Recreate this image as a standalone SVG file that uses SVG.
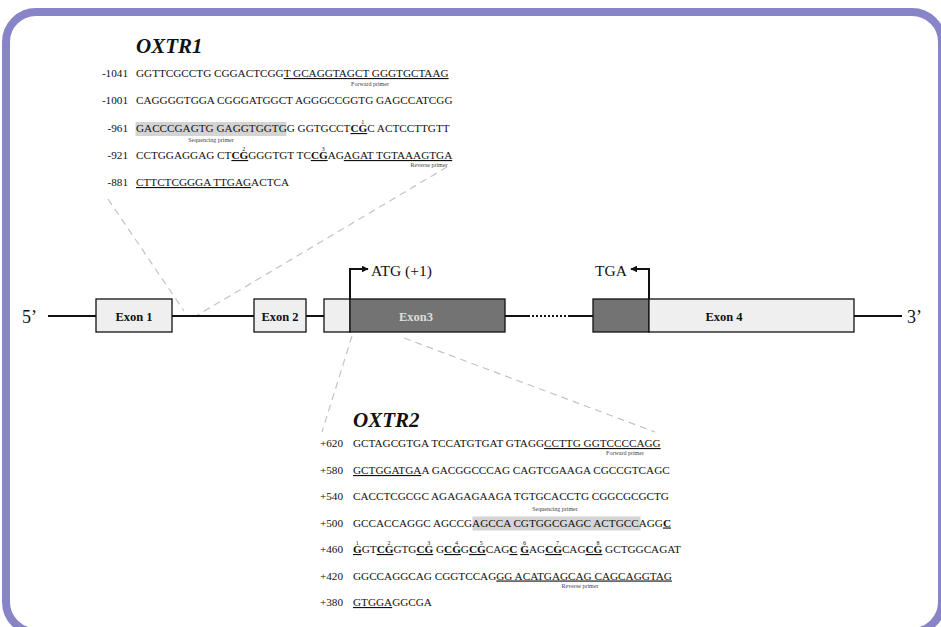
<svg xmlns="http://www.w3.org/2000/svg" width="941" height="627" viewBox="0 0 941 627">
<defs>
<style>
text{font-family:"Liberation Serif","Times New Roman",serif;fill:#111}
.seq{font-size:11.2px}
.lab{font-size:11.2px;text-anchor:end}
.b{font-weight:bold}
.u{text-decoration:underline}
.sup{font-size:6px}
.tiny{font-size:6px;fill:#444;text-anchor:middle}
.title{font-size:21px;font-weight:bold;font-style:italic}
.ex{font-size:12.5px;font-weight:bold;text-anchor:middle}
.big{font-size:18px}
.mid{font-size:15.5px}
.shade{fill:#d4d4d4}
.light{fill:#efefef;stroke:#111;stroke-width:1.3}
.dark{fill:#737373;stroke:#111;stroke-width:1.3}
.dash{stroke:#c4c4c4;stroke-width:1.2;stroke-dasharray:7 5;fill:none}
.gl{stroke:#111;stroke-width:2;fill:none}
</style>
<marker id="ah" viewBox="0 0 10 10" refX="9" refY="5" markerWidth="7" markerHeight="7" orient="auto" markerUnits="userSpaceOnUse"><path d="M0,0L10,5L0,10z" fill="#111"/></marker>
</defs>
<rect x="6" y="12" width="936" height="620" rx="30" fill="#fff" stroke="#8884c8" stroke-width="8"/>

<g id="connectors">
<line class="dash" x1="108" y1="199" x2="184" y2="311"/>
<line class="dash" x1="447" y1="167" x2="196" y2="316"/>
<line class="dash" x1="352" y1="336" x2="322" y2="432"/>
<line class="dash" x1="404" y1="338" x2="655" y2="432"/>
<line class="gl" x1="48" y1="316" x2="528" y2="316"/>
<line class="gl" x1="528" y1="316" x2="570" y2="316" stroke-dasharray="2 2"/>
<line class="gl" x1="570" y1="316" x2="902" y2="316"/>
<path class="gl" stroke-width="1.5" d="M350,299V269H368" marker-end="url(#ah)"/>
<path class="gl" stroke-width="1.5" d="M649,299V269H631" marker-end="url(#ah)"/>
</g>

<g id="end5"><text class="big" x="22" y="323">5’</text></g>
<g id="end3"><text class="big" x="907" y="323">3’</text></g>
<g id="exon1"><rect class="light" x="96" y="299" width="76" height="33"/><text class="ex" x="134" y="321">Exon 1</text></g>
<g id="exon2"><rect class="light" x="254" y="299" width="52" height="33"/><text class="ex" x="280" y="321">Exon 2</text></g>
<g id="exon3"><rect class="light" x="324" y="299" width="26" height="33"/><rect class="dark" x="350" y="299" width="155" height="33"/><text class="ex" x="416" y="321" style="fill:#dedede">Exon3</text></g>
<g id="exon4"><rect class="dark" x="593" y="299" width="56" height="33"/><rect class="light" x="649" y="299" width="205" height="33"/><text class="ex" x="724" y="321">Exon 4</text></g>
<g id="atg"><text class="mid" x="371" y="276">ATG (+1)</text></g>
<g id="tga"><text class="mid" x="595" y="276">TGA</text></g>

<g id="oxtr1">
<text class="title" x="136" y="53">OXTR1</text>
<rect class="shade" x="135.5" y="122" width="151" height="14"/>
<text class="lab" x="128" y="77">-1041</text>
<text class="seq" x="136" y="77">GGTTCGCCTG CGGACTCGG<tspan class="u">T GCAGGTAGCT GGGTGCTAAG</tspan></text>
<text class="tiny" x="370" y="86">Forward primer</text>
<text class="lab" x="128" y="104">-1001</text>
<text class="seq" x="136" y="104">CAGGGGTGGA CGGGATGGCT AGGGCCGGTG GAGCCATCGG</text>
<text class="lab" x="128" y="132">-961</text>
<text class="seq" x="136" y="132">GACCCGAGTG GAGGTGGTGG GGTGCCT<tspan class="b u">CG</tspan><tspan class="sup" dx="-5.9" dy="-8.5">1</tspan><tspan dx="2.9" dy="8.5">C ACTCCTTGTT</tspan></text>
<text class="tiny" x="211" y="142">Sequencing primer</text>
<text class="lab" x="128" y="159">-921</text>
<text class="seq" x="136" y="159">CCTGGAGGAG CT<tspan class="b u">CG</tspan><tspan class="sup" dx="-5.9" dy="-8.5">2</tspan><tspan dx="2.9" dy="8.5">GGGTGT TC</tspan><tspan class="b u">CG</tspan><tspan class="sup" dx="-5.9" dy="-8.5">3</tspan><tspan dx="2.9" dy="8.5">AG</tspan><tspan class="u">AGAT TGTAAAGTGA</tspan></text>
<text class="tiny" x="429" y="167">Reverse primer</text>
<text class="lab" x="128" y="186">-881</text>
<text class="seq" x="136" y="186"><tspan class="u">CTTCTCGGGA TTGAG</tspan>ACTCA</text>
</g>

<g id="oxtr2">
<text class="title" x="353" y="427">OXTR2</text>
<rect class="shade" x="472.5" y="516.5" width="168" height="14"/>
<text class="lab" x="343" y="447">+620</text>
<text class="seq" x="353" y="447">GCTAGCGTGA TCCATGTGAT GTAGG<tspan class="u">CCTTG GGTCCCCAGG</tspan></text>
<text class="tiny" x="625" y="455">Forward primer</text>
<text class="lab" x="343" y="474">+580</text>
<text class="seq" x="353" y="474"><tspan class="u">GCTGGATGA</tspan>A GACGGCCCAG CAGTCGAAGA CGCCGTCAGC</text>
<text class="lab" x="343" y="500">+540</text>
<text class="seq" x="353" y="500">CACCTCGCGC AGAGAGAAGA TGTGCACCTG CGGCGCGCTG</text>
<text class="tiny" x="555" y="511">Sequencing primer</text>
<text class="lab" x="343" y="526.5">+500</text>
<text class="seq" x="353" y="526.5">GCCACCAGGC AGCCGAGCCA CGTGGCGAGC ACTGCCAGG<tspan class="b u">C</tspan></text>
<text class="lab" x="343" y="553">+460</text>
<text class="seq" x="353" y="553"><tspan class="b u">G</tspan><tspan class="sup" dx="-5.9" dy="-8.5">1</tspan><tspan dx="2.9" dy="8.5">GT</tspan><tspan class="b u">CG</tspan><tspan class="sup" dx="-5.9" dy="-8.5">2</tspan><tspan dx="2.9" dy="8.5">GTG</tspan><tspan class="b u">CG</tspan><tspan class="sup" dx="-5.9" dy="-8.5">3</tspan><tspan dx="2.9" dy="8.5"> G</tspan><tspan class="b u">CG</tspan><tspan class="sup" dx="-5.9" dy="-8.5">4</tspan><tspan dx="2.9" dy="8.5">G</tspan><tspan class="b u">CG</tspan><tspan class="sup" dx="-5.9" dy="-8.5">5</tspan><tspan dx="2.9" dy="8.5">CAG</tspan><tspan class="b u">C</tspan> <tspan class="b u">G</tspan><tspan class="sup" dx="-5.9" dy="-8.5">6</tspan><tspan dx="2.9" dy="8.5">AG</tspan><tspan class="b u">CG</tspan><tspan class="sup" dx="-5.9" dy="-8.5">7</tspan><tspan dx="2.9" dy="8.5">CAG</tspan><tspan class="b u">CG</tspan><tspan class="sup" dx="-5.9" dy="-8.5">8</tspan><tspan dx="2.9" dy="8.5"> GCTGGCAGAT</tspan></text>
<text class="lab" x="343" y="579.5">+420</text>
<text class="seq" x="353" y="579.5">GGCCAGGCAG CGGTCCAG<tspan class="u">GG ACATGAGCAG CAGCAGGTAG</tspan></text>
<text class="tiny" x="580" y="587.5">Reverse primer</text>
<text class="lab" x="343" y="606">+380</text>
<text class="seq" x="353" y="606"><tspan class="u">GTGGA</tspan>GGCGA</text>
</g>
</svg>
